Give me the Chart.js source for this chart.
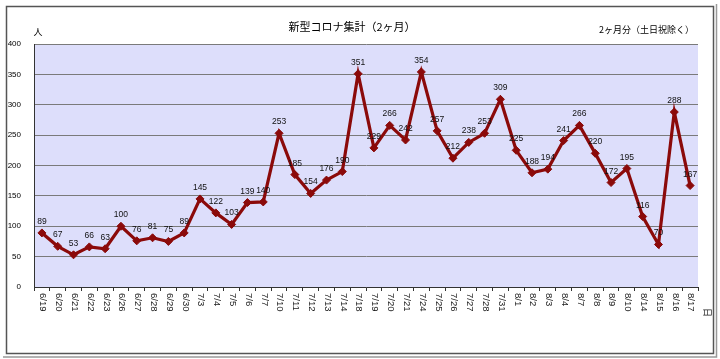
<!DOCTYPE html>
<html>
<head>
<meta charset="utf-8">
<script src="https://cdn.jsdelivr.net/npm/chart.js@4"></script>
<style>
html,body{margin:0;padding:0;background:#fff;}
canvas{display:block;}
</style>
</head>
<body>
<canvas id="c" width="720" height="359"></canvas>
<script>
const categories = ["6/19","6/20","6/21","6/22","6/23","6/26","6/27","6/28","6/29","6/30","7/3","7/4","7/5","7/6","7/7","7/10","7/11","7/12","7/13","7/14","7/18","7/19","7/20","7/21","7/24","7/25","7/26","7/27","7/28","7/31","8/1","8/2","8/3","8/4","8/7","8/8","8/9","8/10","8/14","8/15","8/16","8/17"];
const cases = [89,67,53,66,63,100,76,81,75,89,145,122,103,139,140,253,185,154,176,190,351,229,266,242,354,257,212,238,253,309,225,188,194,241,266,220,172,195,116,70,288,167];
const yTicks = [0,50,100,150,200,250,300,350,400];
const titleText = "新型コロナ集計（2ヶ月）";
const subTitleText = "2ヶ月分（土日祝除く）";
const yUnitText = "人";
const xUnitText = "日";

const LINE = "#8b0a0a";
const SANS = "'Liberation Sans', Arial, sans-serif";
const JPFONT = "'Noto Sans CJK JP', sans-serif";

const decor = {
  id: "decor",
  beforeDraw(chart) {
    const {ctx, chartArea: a} = chart;
    ctx.save();
    ctx.fillStyle = "#dddefb";
    ctx.fillRect(a.left, a.top, a.right - a.left, a.bottom - a.top);
    ctx.strokeStyle = "#555";
    ctx.lineWidth = 1.5;
    ctx.strokeRect(6.5, 6.5, 707, 347);
    ctx.strokeStyle = "#999";
    ctx.lineWidth = 1.5;
    ctx.beginPath();
    ctx.moveTo(3, 357); ctx.lineTo(716.5, 357); ctx.lineTo(716.5, 4);
    ctx.stroke();
    ctx.restore();
  },
  afterDraw(chart) {
    const {ctx, chartArea: a} = chart;
    const xs = chart.scales.x, ys = chart.scales.y;
    ctx.save();
    ctx.fillStyle = "#000";
    ctx.textBaseline = "middle";
    ctx.textAlign = "center";
    ctx.font = "11px " + JPFONT;
    ctx.fillText(titleText, 352, 27);
    ctx.textAlign = "right";
    ctx.font = "9px " + JPFONT;
    ctx.fillText(subTitleText, 694, 30);
    ctx.textAlign = "center";
    ctx.fillText(yUnitText, 38, 32);
    ctx.font = "9.5px " + SANS;
    ctx.textAlign = "left";
    ctx.fillStyle = "#222";
    categories.forEach((c, i) => {
      const x = xs.getPixelForValue(i);
      ctx.save();
      ctx.translate(x + 1, a.bottom + 6);
      ctx.rotate(Math.PI / 2);
      ctx.fillText(c, 0, 0);
      ctx.restore();
    });
    ctx.save();
    ctx.translate(707, 308);
    ctx.rotate(Math.PI / 2);
    ctx.font = "9px " + JPFONT;
    ctx.fillText(xUnitText, 0, 0);
    ctx.restore();
    ctx.textAlign = "center";
    ctx.textBaseline = "alphabetic";
    ctx.font = "8.5px " + SANS;
    ctx.fillStyle = "#111";
    cases.forEach((v, i) => {
      const x = xs.getPixelForValue(i);
      const y = ys.getPixelForValue(v);
      ctx.fillText(String(v), x, y - 9);
    });
    ctx.restore();
  }
};

new Chart(document.getElementById("c"), {
  type: "line",
  data: {
    labels: categories,
    datasets: [{
      data: cases,
      borderColor: LINE,
      backgroundColor: LINE,
      borderWidth: 3.2,
      pointStyle: "rectRot",
      pointRadius: 4,
      pointBorderWidth: 1,
      pointBackgroundColor: LINE,
      pointBorderColor: LINE,
      tension: 0,
      fill: false
    }]
  },
  options: {
    responsive: false,
    animation: false,
    layout: {padding: {top: 44, right: 22, left: 0, bottom: 0}},
    plugins: {legend: {display: false}, tooltip: {enabled: false}, title: {display: false}},
    scales: {
      x: {
        offset: true,
        grid: {display: true, drawOnChartArea: false, offset: true, tickLength: 4, color: "#333", tickWidth: 1},
        border: {color: "#333", width: 1},
        ticks: {display: false},
        afterFit(s) { s.height = 72; }
      },
      y: {
        min: 0, max: 400,
        afterBuildTicks(s) { s.ticks = yTicks.map(v => ({value: v})); },
        ticks: {font: {size: 8, family: SANS}, color: "#000", padding: 13},
        grid: {color: "#7a7a7a", drawTicks: false, lineWidth: 1},
        border: {color: "#333", width: 1},
        afterFit(s) { s.width = 34; }
      }
    }
  },
  plugins: [decor]
});
</script>
</body>
</html>
